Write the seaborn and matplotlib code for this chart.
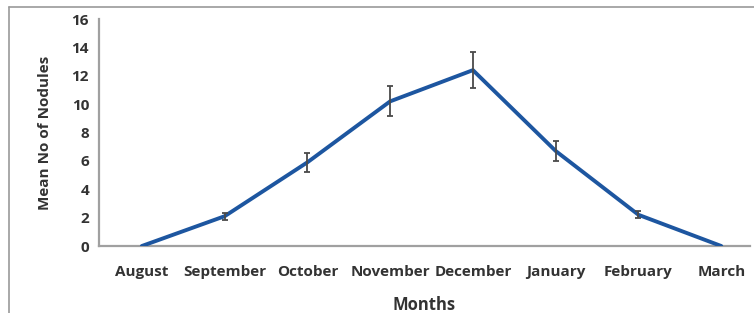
import numpy as np
import pandas as pd
import matplotlib
matplotlib.use("Agg")
import matplotlib.pyplot as plt
import seaborn as sns

months = ["August", "September", "October", "November", "December", "January", "February", "March"]
mean_nodules = [0.0, 2.1, 5.9, 10.2, 12.4, 6.7, 2.2, 0.0]
std_error = [0.0, 0.25, 0.65, 1.05, 1.25, 0.7, 0.25, 0.0]
y_ticks = [0, 2, 4, 6, 8, 10, 12, 14, 16]

sns.set_style("white")
plt.rcParams["font.family"] = ["Open Sans", "DejaVu Sans"]

df = pd.DataFrame({"Months": months, "Mean": mean_nodules, "SE": std_error})
pos = np.arange(len(months))

fig = plt.figure(figsize=(7.54, 3.13), dpi=100)
ax = fig.add_axes([0.131, 0.214, 0.864, 0.725])

# outer frame like the original figure box
fig.add_artist(plt.Line2D([0.012, 1.0], [0.978, 0.978], color="#9a9a9a", lw=1.2))
fig.add_artist(plt.Line2D([0.012, 0.012], [0.0, 0.978], color="#9a9a9a", lw=1.2))

sns.lineplot(x=pos, y=df["Mean"], ax=ax, color="#1d56a0", linewidth=2.8, zorder=3)
ax.errorbar(pos[1:-1], df["Mean"][1:-1], yerr=df["SE"][1:-1], fmt="none",
            ecolor="#4a4a4a", elinewidth=1.3, capsize=2.5, capthick=1.3, zorder=4)

ax.set_xlim(-0.52, 7.35)
ax.set_ylim(0, 16)
ax.set_yticks(y_ticks)
ax.set_xticks(pos)
ax.set_xticklabels(months)
ax.set_xticks(pos[:-1] + 0.5, minor=True)

for s in ["top", "right"]:
    ax.spines[s].set_visible(False)
for s in ["left", "bottom"]:
    ax.spines[s].set_color("#a0a0a0")
    ax.spines[s].set_linewidth(1.6)

ax.tick_params(axis="x", which="major", length=0, pad=14, labelsize=11, labelcolor="#333333")
ax.tick_params(axis="x", which="minor", length=4, color="#a0a0a0", width=1.2, direction="out")
ax.tick_params(axis="y", length=4, color="#a0a0a0", width=1.2, direction="out",
               labelsize=11, labelcolor="#333333", pad=3)
for lab in ax.get_xticklabels() + ax.get_yticklabels():
    lab.set_fontweight("bold")

ax.set_xlabel("Months", fontsize=12, fontweight="bold", color="#333333", labelpad=12)
ax.set_ylabel("Mean No of Nodules", fontsize=11, fontweight="bold", color="#333333", labelpad=14)

fig.savefig("out.png", dpi=100)
